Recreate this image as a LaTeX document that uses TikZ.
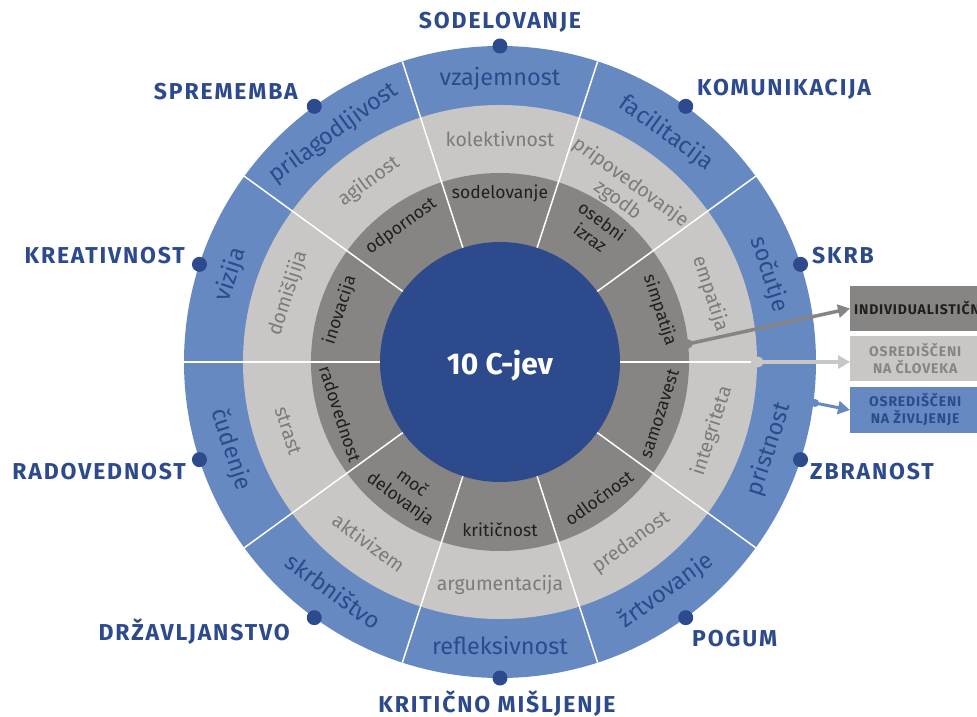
\documentclass[tikz,border=0pt]{standalone}
\usepackage{fontspec}
\setmainfont{Fira Sans}
\newfontfamily\labelfont[LetterSpace=8]{Fira Sans}
\newfontfamily\boxfont[LetterSpace=6]{Fira Sans}
\usetikzlibrary{arrows.meta}
\definecolor{cDarkBlue}{RGB}{44,74,140}
\definecolor{cBlue}{RGB}{102,137,194}
\definecolor{cLight}{RGB}{201,199,197}
\definecolor{cMid}{RGB}{135,133,131}
\definecolor{cGrayText}{RGB}{125,123,121}
\begin{document}
\begin{tikzpicture}[x=1pt,y=1pt,
  sepline/.style={white, line width=1.5pt},
  bluetxt/.style={text=cDarkBlue, font=\fontsize{23.5}{24}\selectfont, inner sep=0pt},
  lighttxt/.style={text=cGrayText, font=\fontsize{19.5}{22}\selectfont, inner sep=0pt, align=center},
  darktxt/.style={text=black!88, font=\fontsize{17.5}{20}\selectfont, inner sep=0pt, align=center},
  outerlbl/.style={text=cDarkBlue, font={\labelfont\bfseries\fontsize{23}{24}\selectfont}, inner sep=0pt},
  odot/.style={circle, fill=cDarkBlue, minimum size=15pt, inner sep=0pt},
  boxlbl/.style={minimum width=130pt, minimum height=45pt, inner xsep=4pt, inner ysep=0pt, anchor=west,
    align=center, font={\boxfont\bfseries\fontsize{14}{17}\selectfont}},
  arrowline/.style={line width=3.5pt, -{Triangle[length=12pt,width=13pt]}},
]
\useasboundingbox (-500,-355) rectangle (477,362);
% rings
\fill[cBlue] (0,0) circle (316);
\fill[cLight] (0,0) circle (257);
\fill[cMid] (0,0) circle (189);
\foreach \a in {36,72,...,324} \draw[sepline] (\a:119) -- (\a:316);
\draw[sepline] (0:119) -- (0:251);
\fill[cDarkBlue] (0,0) circle (120);
\node[text=white, font=\bfseries\fontsize{30}{31}\selectfont, anchor=base, inner sep=0pt] (center) at (0,-13) {10 C-jev};

% blue ring
\node[bluetxt, rotate=0]   (b90)  at (90:283)   {vzajemnost};
\node[bluetxt, rotate=-36] (b54)  at (54:283)   {facilitacija};
\node[bluetxt, rotate=-72] (b18)  at (18:283)   {sočutje};
\node[bluetxt, rotate=72]  (bm18) at (-18:283)  {pristnost};
\node[bluetxt, rotate=36]  (bm54) at (-54:283)  {žrtvovanje};
\node[bluetxt, rotate=0]   (bm90) at (-90:283)  {refleksivnost};
\node[bluetxt, rotate=-36] (bm126) at (-126:283) {skrbništvo};
\node[bluetxt, rotate=-72] (bm162) at (-162:283) {čudenje};
\node[bluetxt, rotate=72]  (b162) at (162:283)  {vizija};
\node[bluetxt, rotate=36]  (b126) at (126:283)  {prilagodljivost};

% light ring
\node[lighttxt, rotate=0]   (g90)  at (90:223)   {kolektivnost};
\node[lighttxt, rotate=-36] (g54)  at (54:211)   {pripovedovanje\\zgodb};
\node[lighttxt, rotate=-72] (g18)  at (18:221)   {empatija};
\node[lighttxt, rotate=72]  (gm18) at (-18:223)  {integriteta};
\node[lighttxt, rotate=36]  (gm54) at (-54:223)  {predanost};
\node[lighttxt, rotate=0]   (gm90) at (-90:223)  {argumentacija};
\node[lighttxt, rotate=-36] (gm126) at (-126:223) {aktivizem};
\node[lighttxt, rotate=-72] (gm162) at (-162:223) {strast};
\node[lighttxt, rotate=72]  (g162) at (162:223)  {domišljija};
\node[lighttxt, rotate=36]  (g126) at (126:223)  {agilnost};

% dark ring
\node[darktxt, rotate=0]   (d90)  at (90:168)   {sodelovanje};
\node[darktxt, rotate=-36] (d54)  at (54:164)   {osebni\\izraz};
\node[darktxt, rotate=-72] (d18)  at (18:168)   {simpatija};
\node[darktxt, rotate=72]  (dm18) at (-18:168)  {samozavest};
\node[darktxt, rotate=36]  (dm54) at (-54:168)  {odločnost};
\node[darktxt, rotate=0]   (dm90) at (-90:168)  {kritičnost};
\node[darktxt, rotate=-36] (dm126) at (-126:160) {moč\\delovanja};
\node[darktxt, rotate=-72] (dm162) at (-162:168) {radovednost};
\node[darktxt, rotate=72]  (d162) at (162:168)  {inovacija};
\node[darktxt, rotate=36]  (d126) at (126:168)  {odpornost};

% outer dots and labels
\foreach \a/\n in {90/o90,54/o54,18/o18,-18/om18,-54/om54,-90/om90,-126/om126,-162/om162,162/o162,126/o126}
  \node[odot] (\n) at (\a:316) {};
\node[outerlbl, anchor=base]      (l90)   at (0,333)     {SODELOVANJE};
\node[outerlbl, anchor=base west] (l54)   at (197,266)   {KOMUNIKACIJA};
\node[outerlbl, anchor=base west] (l18)   at (312,98)    {SKRB};
\node[outerlbl, anchor=base west] (lm18)  at (310,-117)  {ZBRANOST};
\node[outerlbl, anchor=base west] (lm54)  at (192,-284)  {POGUM};
\node[outerlbl, anchor=base]      (lm90)  at (-3,-350)   {KRITIČNO MIŠLJENJE};
\node[outerlbl, anchor=base east] (lm126) at (-210,-278) {DRŽAVLJANSTVO};
\node[outerlbl, anchor=base east] (lm162) at (-314,-117) {RADOVEDNOST};
\node[outerlbl, anchor=base east] (l162)  at (-315,98)   {KREATIVNOST};
\node[outerlbl, anchor=base east] (l126)  at (-202,262)  {SPREMEMBA};

% legend boxes
\node[boxlbl, fill=cMid, text=black!88] (box1) at (350,53.5) {INDIVIDUALISTIČNI};
\node[boxlbl, fill=cLight, text=cMid] (box2) at (350,3.5) {OSREDIŠČENI\\NA ČLOVEKA};
\node[boxlbl, fill=cBlue, text=cDarkBlue] (box3) at (350,-48) {OSREDIŠČENI\\NA ŽIVLJENJE};

% arrows
\node[circle, fill=cMid, minimum size=9pt, inner sep=0pt] (a1) at (5.5:189) {};
\node[circle, fill=cLight, minimum size=11pt, inner sep=0pt] (a2) at (258,0) {};
\node[circle, fill=cBlue, minimum size=8pt, inner sep=0pt] (a3) at (315,-41) {};
\draw[arrowline, cMid] (a1.center) -- (box1.west);
\draw[arrowline, cLight] (a2.center) -- (a2 -| box2.west);
\draw[arrowline, cBlue, line width=3pt] (a3.center) -- (box3.west);
\end{tikzpicture}
\end{document}
